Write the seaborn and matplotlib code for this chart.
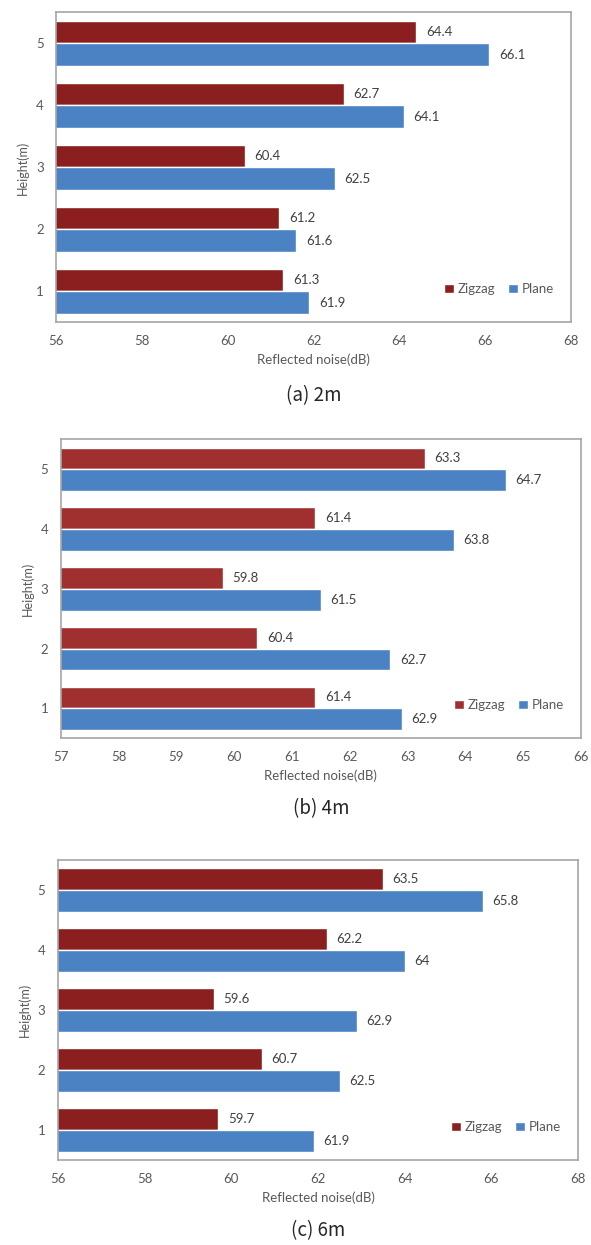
import matplotlib
matplotlib.use("Agg")
import matplotlib.pyplot as plt
import seaborn as sns
import pandas as pd

sns.set_style("white")
plt.rcParams['font.family'] = ['Lato', 'DejaVu Sans']

# data
heights = ["1", "2", "3", "4", "5"]
zigzag_2m = [61.3, 61.2, 60.4, 62.7, 64.4]
plane_2m = [61.9, 61.6, 62.5, 64.1, 66.1]
zigzag_4m = [61.4, 60.4, 59.8, 61.4, 63.3]
plane_4m = [62.9, 62.7, 61.5, 63.8, 64.7]
zigzag_6m = [59.7, 60.7, 59.6, 62.2, 63.5]
plane_6m = [61.9, 62.5, 62.9, 64, 65.8]

captions = ["(a) 2m", "(b) 4m", "(c) 6m"]
xlims = [(56, 68), (57, 66), (56, 68)]
xsteps = [2, 1, 2]
red_cols = ["#8B1E1F", "#A03030", "#8B1E1F"]
blue = "#4A82C4"
gray = "#595959"

# axes boxes [left, bottom, width, height]
boxes = [[0.095, 0.741, 0.871, 0.249],
         [0.103, 0.407, 0.880, 0.240],
         [0.098, 0.068, 0.880, 0.241]]

fig = plt.figure(figsize=(5.91, 12.45), dpi=100)

series = [(zigzag_2m, plane_2m), (zigzag_4m, plane_4m), (zigzag_6m, plane_6m)]
for i, (zz, pl) in enumerate(series):
    df = pd.DataFrame({
        "Height": heights * 2,
        "Noise": zz + pl,
        "Type": ["Zigzag"] * 5 + ["Plane"] * 5,
    })
    ax = fig.add_axes(boxes[i])
    sns.barplot(data=df, x="Noise", y="Height", hue="Type",
                order=heights[::-1], hue_order=["Zigzag", "Plane"],
                palette=[red_cols[i], blue], orient="h", width=0.73,
                saturation=1, errorbar=None, ax=ax)
    lo, hi = xlims[i]
    ax.set_xlim(lo, hi)
    ax.set_xticks(range(lo, hi + 1, xsteps[i]))
    for c in ax.containers:
        labs = ["%g" % v for v in c.datavalues]
        ax.bar_label(c, labels=labs, padding=7, fontsize=9.5, color="#404040")
    ax.tick_params(axis="both", length=0, labelsize=9.5, labelcolor=gray, pad=9)
    ax.set_xlabel("Reflected noise(dB)", fontsize=9.5, color=gray, labelpad=5)
    ax.set_ylabel("Height(m)", fontsize=9, color=gray, labelpad=5)
    for s in ax.spines.values():
        s.set_visible(True)
        s.set_color("#A6A6A6")
        s.set_linewidth(1.2)
    ax.legend(loc="lower right", ncol=2, frameon=False, fontsize=9.5,
              handlelength=0.7, handleheight=0.7, handletextpad=0.3,
              columnspacing=1.0, labelcolor=gray, bbox_to_anchor=(0.99, 0.05))
    ax.text(0.5, -0.235, captions[i], transform=ax.transAxes, ha="center",
            va="center", fontsize=13.5, family=["Noto Sans CJK KR", "DejaVu Sans"])

fig.savefig("out.png", dpi=100)
